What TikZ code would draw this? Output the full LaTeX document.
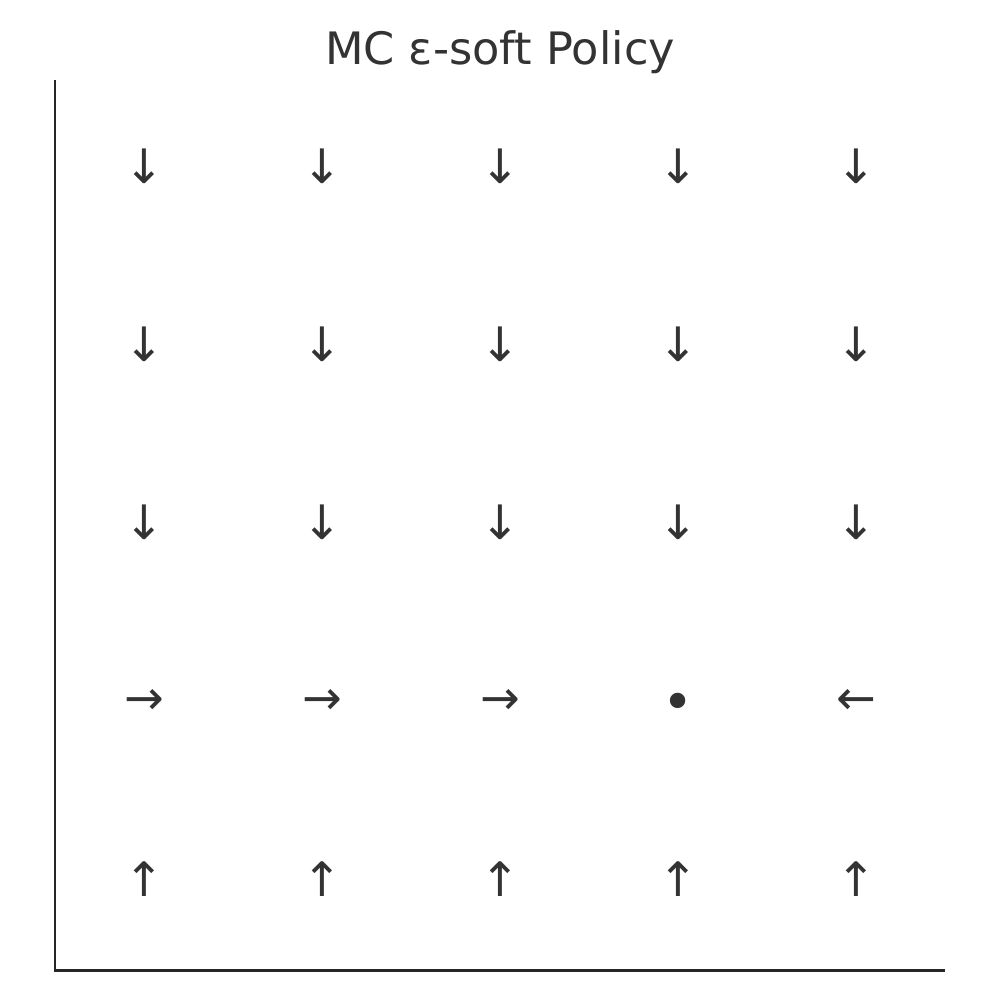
\documentclass[tikz,border=0pt]{standalone}
\usepackage{fontspec}
\setmainfont{DejaVu Sans}
\definecolor{ink}{HTML}{262626}
\definecolor{txt}{HTML}{333333}
\begin{document}
\begin{tikzpicture}[x=0.01cm,y=-0.01cm,
  glyph/.style={text=txt,font=\fontsize{13.5pt}{13.5pt}\selectfont,inner sep=0pt,anchor=center},
  spine/.style={draw=ink,line width=0.85pt}]
\useasboundingbox (0,0) rectangle (1000,1000);
\node[text=txt,font=\fontsize{12.7pt}{12.7pt}\selectfont,inner sep=0pt] (title) at (500,52) {MC ε-soft Policy};
\coordinate (top) at (55,80);
\coordinate (origin) at (55,970);
\coordinate (right) at (945,970);
\draw[spine] (top) -- (origin) -- (right);
\foreach \c/\x in {1/144,2/322,3/500,4/678,5/856}{
  \node[glyph] (a1\c) at (\x,166) {↓};
  \node[glyph] (a2\c) at (\x,344) {↓};
  \node[glyph] (a3\c) at (\x,522) {↓};
  \node[glyph] (a5\c) at (\x,879) {↑};
}
\node[glyph] (a41) at (144,702) {→};
\node[glyph] (a42) at (322,702) {→};
\node[glyph] (a43) at (500,702) {→};
\node[glyph,font=\fontsize{15pt}{15pt}\selectfont] (a44) at (678,707) {•};
\node[glyph] (a45) at (856,702) {←};
\end{tikzpicture}
\end{document}
